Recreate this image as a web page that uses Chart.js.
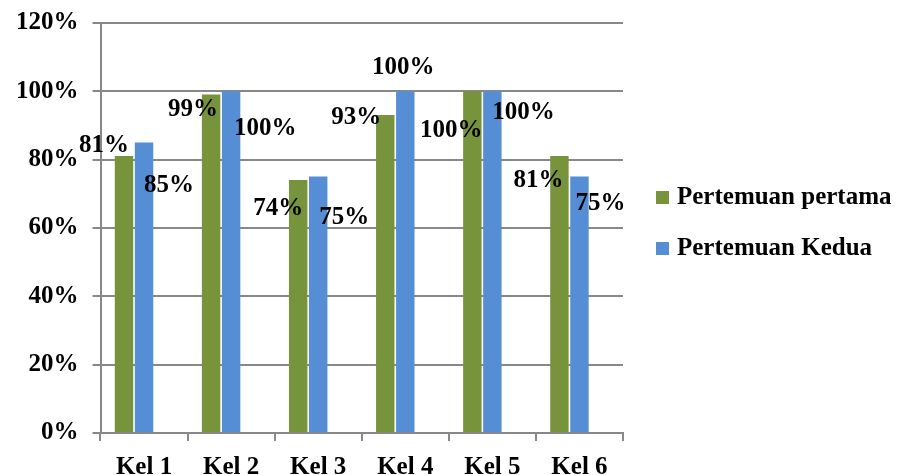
<!DOCTYPE html>
<html>
<head>
<meta charset="utf-8">
<script src="https://cdn.jsdelivr.net/npm/chart.js@4/dist/chart.umd.min.js"></script>
<style>
  body { margin: 0; background: #fff; }
  #wrap { width: 910px; height: 475px; }
</style>
</head>
<body>
<div id="wrap"><canvas id="myChart" width="910" height="475"></canvas></div>
<script>
'use strict';
let categories = ['Kel 1', 'Kel 2', 'Kel 3', 'Kel 4', 'Kel 5', 'Kel 6'];
let seriesNames = ['Pertemuan pertama', 'Pertemuan Kedua'];
let seriesColors = ['#77933C', '#558ED5'];
let pertama = [81, 99, 74, 93, 100, 81];
let kedua = [85, 100, 75, 100, 100, 75];
let yTicks = [0, 20, 40, 60, 80, 100, 120];

// where each value label sits relative to the top of its bar (dx, dy)
let labelShift = [
    [[-20, -11], [-18, 15], [-20, 29], [-29, 2], [-21, 39], [-21, 24]],
    [[25, 43], [34, 37], [26, 41], [-2, -24], [31, 21], [21, 27]]
];

let fontFamily = '"Liberation Serif", "Times New Roman", serif';
let fontSize = 25;

// value labels, drawn the way the spreadsheet placed them
let valueLabels = {
    id: 'valueLabels',
    afterDatasetsDraw(chart) {
        let ctx = chart.ctx;
        ctx.save();
        ctx.font = 'bold ' + fontSize + 'px ' + fontFamily;
        ctx.fillStyle = '#000';
        ctx.textAlign = 'center';
        ctx.textBaseline = 'middle';
        for (let d = 0; d < 2; d++) {
            let meta = chart.getDatasetMeta(d);
            meta.data.forEach(function (bar, i) {
                let v = chart.data.datasets[d].data[i];
                let s = labelShift[d][i];
                ctx.fillText(v + '%', bar.x + s[0], bar.y + s[1]);
            });
        }
        ctx.restore();
    }
};

// legend on the right, square markers
let sideLegend = {
    id: 'sideLegend',
    afterDraw(chart) {
        let ctx = chart.ctx;
        let x = chart.chartArea.right + 33;
        let y = 197;
        ctx.save();
        ctx.font = 'bold ' + fontSize + 'px ' + fontFamily;
        ctx.textBaseline = 'middle';
        ctx.textAlign = 'left';
        for (let i = 0; i < seriesNames.length; i++) {
            ctx.fillStyle = seriesColors[i];
            ctx.fillRect(x, y + i * 51 - 6, 13, 13);
            ctx.fillStyle = '#000';
            ctx.fillText(seriesNames[i], x + 21, y + i * 51 + 1);
        }
        ctx.restore();
    }
};

let ctx = document.getElementById('myChart').getContext('2d');
let chart = new Chart(ctx, {
    type: 'bar',
    data: {
        labels: categories,
        datasets: [
            {
                label: seriesNames[0],
                backgroundColor: seriesColors[0],
                data: pertama
            },
            {
                label: seriesNames[1],
                backgroundColor: seriesColors[1],
                data: kedua
            },
            {
                // empty third series (keeps the bar groups off-centre like the original)
                label: '',
                backgroundColor: 'rgba(0,0,0,0)',
                data: categories.map(function () { return null; })
            }
        ]
    },
    options: {
        responsive: false,
        animation: false,
        layout: { padding: { top: 0, left: 2, right: 287, bottom: -19 } },
        datasets: {
            bar: { categoryPercentage: 0.69, barPercentage: 0.92 }
        },
        plugins: {
            tooltip: { enabled: false },
            legend: { display: false }
        },
        scales: {
            x: {
                grid: { display: true, drawOnChartArea: false, color: '#888', lineWidth: 2, tickLength: 8 },
                border: { color: '#888', width: 2 },
                ticks: { color: '#000', padding: 14, font: { family: fontFamily, size: fontSize, weight: 'bold', lineHeight: 1 } }
            },
            y: {
                min: 0,
                max: 120,
                afterBuildTicks: function (axis) {
                    axis.ticks = yTicks.map(function (v) { return { value: v }; });
                },
                grid: { color: '#888', lineWidth: 2, tickLength: 8 },
                border: { color: '#888', width: 2 },
                ticks: {
                    color: '#000',
                    padding: 14,
                    font: { family: fontFamily, size: fontSize, weight: 'bold', lineHeight: 0.7 },
                    callback: function (v) { return v + '%'; }
                }
            }
        }
    },
    plugins: [valueLabels, sideLegend]
});
</script>
</body>
</html>
